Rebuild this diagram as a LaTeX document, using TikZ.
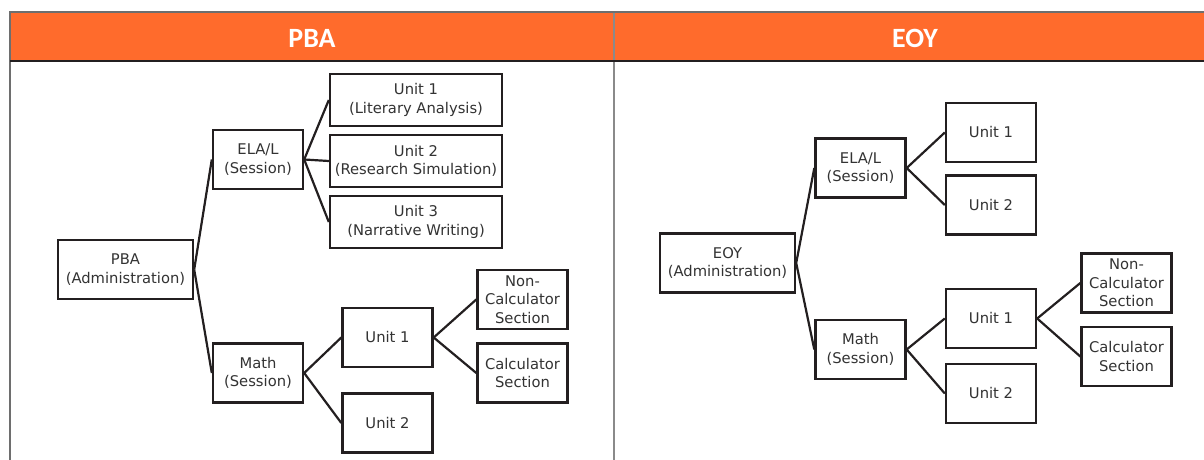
\documentclass[tikz,border=0pt]{standalone}
\usepackage{fontspec}
\setmainfont{DejaVu Sans}
\newfontfamily\headfont{Carlito}
\definecolor{hdr}{HTML}{FF6B2C}
\definecolor{boxline}{HTML}{231F20}
\definecolor{txt}{HTML}{333333}
\definecolor{rule}{HTML}{8A8A8A}
\begin{document}
\begin{tikzpicture}[x=1bp,y=-1bp,
  bx/.style={draw=boxline, line width=2.4bp, fill=white, align=center, inner sep=0pt,
    text=txt, font=\fontsize{14.8}{18.5}\selectfont},
  wbox/.style={bx, minimum width=135bp, minimum height=59bp},
  sbox/.style={bx, minimum width=90bp, minimum height=59bp},
  lbox/.style={bx, minimum width=172bp, minimum height=52bp},
  conn/.style={draw=boxline, line width=2.2bp},
  hd/.style={text=white, font=\headfont\bfseries\fontsize{28}{32}\selectfont}]
\useasboundingbox (0,0) rectangle (1204,460);
\begin{scope}
\clip (0,0) rectangle (1204,460);
\fill[hdr] (10,12) rectangle (1210,61);
\draw[rule, line width=1.4bp] (614,12) -- (614,470);
\draw[rule!80!black, line width=1.2bp] (10,470) -- (10,12) -- (1210,12);
\draw[boxline, line width=1.4bp] (10,61) -- (1210,61);
\end{scope}
\node[hd] (hpba) at (312,38) {PBA};
\node[hd] (heoy) at (915,38) {EOY};
% PBA side
\node[wbox] (padm) at (125.5,269.5) {PBA\\(Administration)};
\node[sbox] (pela) at (258,159.5) {ELA/L\\(Session)};
\node[lbox] (pu1) at (416,100) {Unit 1\\(Literary Analysis)};
\node[lbox] (pu2) at (416,161) {Unit 2\\(Research Simulation)};
\node[lbox] (pu3) at (416,222) {Unit 3\\(Narrative Writing)};
\node[sbox] (pmath) at (258,373) {Math\\(Session)};
\node[sbox] (pmu1) at (387.5,337.5) {Unit 1};
\node[sbox] (pmu2) at (387.5,423) {Unit 2};
\node[sbox] (pnc) at (522.5,299.5) {Non-\\Calculator\\Section};
\node[sbox] (pc) at (522.5,373) {Calculator\\Section};
\draw[conn] (padm.east) -- (pela.west);
\draw[conn] (padm.east) -- (pmath.west);
\draw[conn] (pela.east) -- (pu1.west);
\draw[conn] (pela.east) -- (pu2.west);
\draw[conn] (pela.east) -- (pu3.west);
\draw[conn] (pmath.east) -- (pmu1.west);
\draw[conn] (pmath.east) -- (pmu2.west);
\draw[conn] (pmu1.east) -- (pnc.west);
\draw[conn] (pmu1.east) -- (pc.west);
% EOY side
\node[wbox] (eadm) at (727.5,263) {EOY\\(Administration)};
\node[sbox] (eela) at (860.5,168) {ELA/L\\(Session)};
\node[sbox] (eu1) at (991,132.5) {Unit 1};
\node[sbox] (eu2) at (991,205) {Unit 2};
\node[sbox] (emath) at (860.5,349.5) {Math\\(Session)};
\node[sbox] (emu1) at (991,318.5) {Unit 1};
\node[sbox] (emu2) at (991,393.5) {Unit 2};
\node[sbox] (enc) at (1126.5,283) {Non-\\Calculator\\Section};
\node[sbox] (ec) at (1126.5,356.5) {Calculator\\Section};
\draw[conn] (eadm.east) -- (eela.west);
\draw[conn] (eadm.east) -- (emath.west);
\draw[conn] (eela.east) -- (eu1.west);
\draw[conn] (eela.east) -- (eu2.west);
\draw[conn] (emath.east) -- (emu1.west);
\draw[conn] (emath.east) -- (emu2.west);
\draw[conn] (emu1.east) -- (enc.west);
\draw[conn] (emu1.east) -- (ec.west);
\end{tikzpicture}
\end{document}
